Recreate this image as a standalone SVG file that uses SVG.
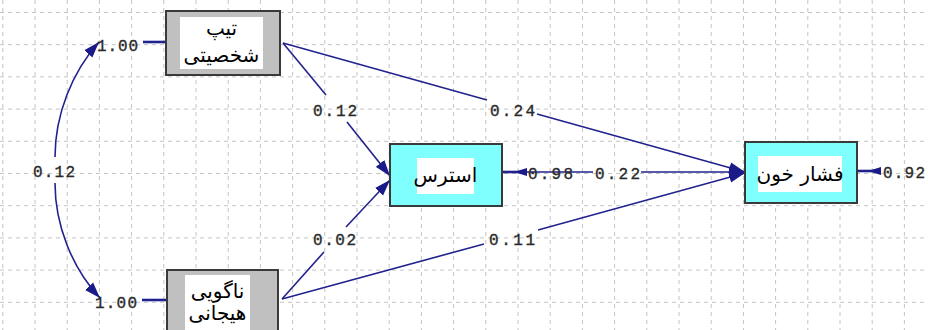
<svg xmlns="http://www.w3.org/2000/svg" width="928" height="330" viewBox="0 0 928 330">
<defs>
<style>
.grid line{stroke:#c4c4c4;stroke-width:1;stroke-dasharray:4 4}
.conn path,.conn line{stroke:#22228e;stroke-width:1.6;fill:none}
.conn .err{stroke-width:2.6}
.box{stroke:#3a3a3a;stroke-width:2}
.obs{fill:#c0c0c0}
.lat{fill:#80ffff}
.inner{fill:#ffffff}
.fa{font-family:"DejaVu Sans",sans-serif;font-size:20px;fill:#000;text-anchor:middle}
.lbl{font-family:"Liberation Mono",monospace;font-size:16px;fill:#2a2a2a;stroke:#2a2a2a;stroke-width:0.35}
</style>
<marker id="arr" viewBox="0 -6 16 12" refX="16" refY="0" markerWidth="16" markerHeight="12" markerUnits="userSpaceOnUse" orient="auto">
<path d="M0,-5.5 L16,0 L0,5.5 z" fill="#1a1a88"/>
</marker>
</defs>
<rect x="0" y="0" width="928" height="330" fill="#ffffff"/>
<g class="grid" id="grid">
<line x1="2.8" y1="0" x2="2.8" y2="330"/><line x1="35" y1="0" x2="35" y2="330"/><line x1="67.2" y1="0" x2="67.2" y2="330"/><line x1="99.4" y1="0" x2="99.4" y2="330"/><line x1="131.6" y1="0" x2="131.6" y2="330"/><line x1="163.8" y1="0" x2="163.8" y2="330"/><line x1="196" y1="0" x2="196" y2="330"/><line x1="228.2" y1="0" x2="228.2" y2="330"/><line x1="260.4" y1="0" x2="260.4" y2="330"/><line x1="292.6" y1="0" x2="292.6" y2="330"/><line x1="324.8" y1="0" x2="324.8" y2="330"/><line x1="357" y1="0" x2="357" y2="330"/><line x1="389.2" y1="0" x2="389.2" y2="330"/><line x1="421.4" y1="0" x2="421.4" y2="330"/><line x1="453.6" y1="0" x2="453.6" y2="330"/><line x1="485.8" y1="0" x2="485.8" y2="330"/><line x1="518" y1="0" x2="518" y2="330"/><line x1="550.2" y1="0" x2="550.2" y2="330"/><line x1="582.4" y1="0" x2="582.4" y2="330"/><line x1="614.6" y1="0" x2="614.6" y2="330"/><line x1="646.8" y1="0" x2="646.8" y2="330"/><line x1="679" y1="0" x2="679" y2="330"/><line x1="711.2" y1="0" x2="711.2" y2="330"/><line x1="743.4" y1="0" x2="743.4" y2="330"/><line x1="775.6" y1="0" x2="775.6" y2="330"/><line x1="807.8" y1="0" x2="807.8" y2="330"/><line x1="840" y1="0" x2="840" y2="330"/><line x1="872.2" y1="0" x2="872.2" y2="330"/><line x1="904.4" y1="0" x2="904.4" y2="330"/>
<line x1="0" y1="12.5" x2="928" y2="12.5"/><line x1="0" y1="44.7" x2="928" y2="44.7"/><line x1="0" y1="76.9" x2="928" y2="76.9"/><line x1="0" y1="109.1" x2="928" y2="109.1"/><line x1="0" y1="141.3" x2="928" y2="141.3"/><line x1="0" y1="173.5" x2="928" y2="173.5"/><line x1="0" y1="205.7" x2="928" y2="205.7"/><line x1="0" y1="237.9" x2="928" y2="237.9"/><line x1="0" y1="270.1" x2="928" y2="270.1"/><line x1="0" y1="302.3" x2="928" y2="302.3"/>
</g>
<g class="conn" id="connectors">
<path d="M55,157 C55,115 72,72 99,42" marker-end="url(#arr)"/>
<path d="M55,183 C55,225 72,268 100,298" marker-end="url(#arr)"/>
<line class="err" x1="143" y1="42" x2="166" y2="42"/>
<line class="err" x1="142" y1="300" x2="167" y2="300"/>
<line x1="283" y1="43" x2="326" y2="95"/>
<line x1="347" y1="122" x2="390" y2="176" marker-end="url(#arr)"/>
<line x1="283" y1="43" x2="487" y2="100"/>
<line x1="537" y1="114" x2="745" y2="172" marker-end="url(#arr)"/>
<line x1="282" y1="299" x2="324" y2="252"/>
<line x1="346" y1="227" x2="390" y2="180" marker-end="url(#arr)"/>
<line x1="282" y1="299" x2="484" y2="244"/>
<line x1="538" y1="230" x2="745" y2="173" marker-end="url(#arr)"/>
<line x1="502" y1="172" x2="593" y2="172"/>
<line x1="641" y1="172" x2="745" y2="172" marker-end="url(#arr)"/>
<line class="err" x1="502" y1="172" x2="527" y2="172"/>
<path d="M514,172 L527,168 L527,176 z" style="stroke:none;fill:#1a1a88"/>
<line class="err" x1="857" y1="171" x2="881" y2="171"/>
<path d="M868,171 L881,167 L881,175 z" style="stroke:none;fill:#1a1a88"/>
</g>
<g id="node-tip">
<rect class="box obs" x="166" y="11" width="114" height="64"/>
<rect class="inner" x="180" y="17" width="83" height="52"/>
<text class="fa" x="221.5" y="35">تیپ</text>
<text class="fa" x="221.5" y="62">شخصیتی</text>
</g>
<g id="node-nagooyi">
<rect class="box obs" x="167" y="270" width="111" height="66"/>
<rect class="inner" x="185" y="275" width="65" height="55"/>
<text class="fa" x="217.5" y="298">ناگویی</text>
<text class="fa" x="217.5" y="320">هیجانی</text>
</g>
<g id="node-stress">
<rect class="box lat" x="390" y="144" width="112" height="62"/>
<rect class="inner" x="417" y="158" width="57" height="36"/>
<text class="fa" x="445.5" y="182">استرس</text>
</g>
<g id="node-feshar">
<rect class="box lat" x="745" y="142" width="112" height="61"/>
<rect class="inner" x="758" y="156" width="84" height="36"/>
<text class="fa" x="800" y="181">فشار خون</text>
</g>
<g id="labels">
<text class="lbl" x="97" y="51" textLength="41">1.00</text>
<text class="lbl" x="95" y="308" textLength="42">1.00</text>
<text class="lbl" x="33" y="177" textLength="42">0.12</text>
<text class="lbl" x="313" y="116" textLength="44">0.12</text>
<text class="lbl" x="490" y="116" textLength="45">0.24</text>
<text class="lbl" x="313" y="245" textLength="43">0.02</text>
<text class="lbl" x="489" y="245" textLength="46">0.11</text>
<text class="lbl" x="528" y="179" textLength="45">0.98</text>
<text class="lbl" x="595" y="179" textLength="45">0.22</text>
<text class="lbl" x="883" y="178" textLength="42">0.92</text>
</g>
</svg>
